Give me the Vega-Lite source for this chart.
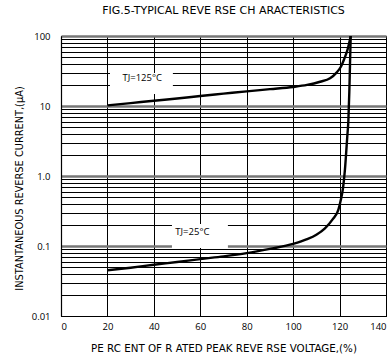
{
  "$schema": "https://vega.github.io/schema/vega-lite/v6.json",
  "width": 325,
  "height": 280,
  "autosize": {"type": "none"},
  "padding": {"left": 61, "top": 36, "right": 4, "bottom": 42},
  "background": "white",
  "view": {"stroke": "black", "strokeWidth": 1},
  "title": {
    "text": "FIG.5-TYPICAL REVE RSE  CH ARACTERISTICS",
    "font": "DejaVu Sans",
    "fontSize": 11,
    "fontWeight": "normal",
    "color": "black",
    "anchor": "middle",
    "offset": 15
  },
  "config": {
    "axis": {
      "labelFont": "Open Sans",
      "labelFontSize": 9.5,
      "labelColor": "black",
      "titleFont": "DejaVu Sans",
      "titleFontSize": 10.3,
      "titleFontWeight": "normal",
      "titleColor": "black",
      "ticks": false,
      "domainColor": "black",
      "domainWidth": 1.2
    }
  },
  "encoding": {
    "x": {
      "field": "x",
      "type": "quantitative",
      "scale": {"domain": [0, 140], "nice": false, "zero": false},
      "axis": {
        "title": "PE RC ENT OF R ATED PEAK  REVE RSE  VOLTAGE,(%)",
        "values": [0, 20, 40, 60, 80, 100, 120, 140],
        "grid": true,
        "gridColor": "black",
        "gridWidth": 1,
        "gridOpacity": 1,
        "labelPadding": 5,
        "titleY": 32,
        "titleBaseline": "middle"
      }
    },
    "y": {
      "field": "y",
      "type": "quantitative",
      "scale": {"type": "log", "domain": [0.01, 100], "nice": false},
      "axis": {
        "title": "INSTANTANEOUS REVERSE CURRENT,(μA)",
        "values": [0.01, 0.02, 0.03, 0.04, 0.05, 0.06, 0.07, 0.08, 0.09, 0.1, 0.2, 0.3, 0.4, 0.5, 0.6, 0.7, 0.8, 0.9, 1, 2, 3, 4, 5, 6, 7, 8, 9, 10, 20, 30, 40, 50, 60, 70, 80, 90, 100],
        "labelExpr": "datum.value == 100 ? '100' : datum.value == 10 ? '10' : datum.value == 1 ? '1.0' : datum.value == 0.1 ? '0.1' : datum.value == 0.01 ? '0.01' : ''",
        "labelOverlap": false,
        "labelPadding": 11,
        "grid": true,
        "gridOpacity": 1,
        "gridColor": {"condition": {"test": "datum.value == 100 || datum.value == 10 || datum.value == 1 || datum.value == 0.1", "value": "#777777"}, "value": "black"},
        "gridWidth": {"condition": {"test": "datum.value == 100 || datum.value == 10 || datum.value == 1 || datum.value == 0.1", "value": 2.5}, "value": 1},
        "titleAngle": -90,
        "titleX": -42,
        "titleY": 152,
        "titleFontSize": 9.8,
        "titleAlign": "center",
        "titleBaseline": "middle"
      }
    }
  },
  "layer": [
    {
      "data": {"values": [
        {"x": 21.1, "x2": 48.2, "y": 14.8, "y2": 29.6},
        {"x": 47.8, "x2": 71.9, "y": 0.094, "y2": 0.206}
      ]},
      "mark": {"type": "rect", "fill": "white", "stroke": null},
      "encoding": {
        "x2": {"field": "x2"},
        "y2": {"field": "y2"}
      }
    },
    {
      "data": {"values": [
        {"series": "125", "x": 20, "y": 10.2},
        {"series": "125", "x": 30, "y": 11.0},
        {"series": "125", "x": 40, "y": 11.9},
        {"series": "125", "x": 50, "y": 12.8},
        {"series": "125", "x": 60, "y": 13.9},
        {"series": "125", "x": 70, "y": 15.0},
        {"series": "125", "x": 80, "y": 16.2},
        {"series": "125", "x": 90, "y": 17.4},
        {"series": "125", "x": 100, "y": 18.7},
        {"series": "125", "x": 106, "y": 20.0},
        {"series": "125", "x": 111.6, "y": 22.2},
        {"series": "125", "x": 115.9, "y": 24.9},
        {"series": "125", "x": 118.7, "y": 30},
        {"series": "125", "x": 120.5, "y": 36},
        {"series": "125", "x": 122, "y": 47},
        {"series": "125", "x": 123.5, "y": 65},
        {"series": "125", "x": 124.8, "y": 100},
        {"series": "25", "x": 20, "y": 0.045},
        {"series": "25", "x": 30, "y": 0.049},
        {"series": "25", "x": 40, "y": 0.054},
        {"series": "25", "x": 50, "y": 0.059},
        {"series": "25", "x": 60, "y": 0.065},
        {"series": "25", "x": 70, "y": 0.071},
        {"series": "25", "x": 80, "y": 0.079},
        {"series": "25", "x": 90, "y": 0.091},
        {"series": "25", "x": 100, "y": 0.107},
        {"series": "25", "x": 106, "y": 0.125},
        {"series": "25", "x": 110, "y": 0.145},
        {"series": "25", "x": 113.7, "y": 0.179},
        {"series": "25", "x": 117, "y": 0.24},
        {"series": "25", "x": 119.5, "y": 0.33},
        {"series": "25", "x": 120.5, "y": 0.45},
        {"series": "25", "x": 121.5, "y": 0.68},
        {"series": "25", "x": 122.3, "y": 1.22},
        {"series": "25", "x": 123.3, "y": 3.6},
        {"series": "25", "x": 123.8, "y": 6.3},
        {"series": "25", "x": 124.2, "y": 16},
        {"series": "25", "x": 124.5, "y": 40},
        {"series": "25", "x": 124.8, "y": 100}
      ]},
      "mark": {"type": "line", "color": "black", "strokeWidth": 2.4, "interpolate": "monotone", "clip": true},
      "encoding": {
        "detail": {"field": "series"},
        "order": {"field": "x", "type": "quantitative"}
      }
    },
    {
      "data": {"values": [
        {"x": 35, "y": 25, "label": "TJ=125°C"},
        {"x": 56.6, "y": 0.158, "label": "TJ=25°C"}
      ]},
      "mark": {"type": "text", "font": "Open Sans", "fontSize": 9.5, "color": "black", "align": "center", "baseline": "middle"},
      "encoding": {
        "text": {"field": "label"}
      }
    }
  ]
}
